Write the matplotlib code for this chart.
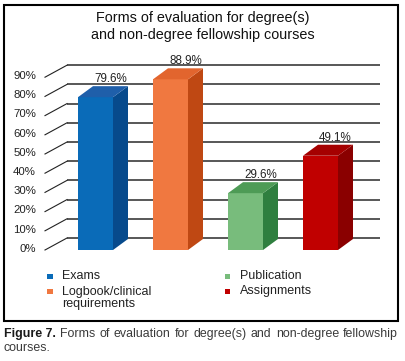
import matplotlib
matplotlib.use("Agg")
import matplotlib.pyplot as plt
from matplotlib.patches import Polygon, Rectangle

# ---- data ----
categories = ["Exams", "Logbook/clinical\nrequirements", "Publication", "Assignments"]
values = [79.6, 88.9, 29.6, 49.1]
value_labels = ["79.6%", "88.9%", "29.6%", "49.1%"]
tick_values = [0, 10, 20, 30, 40, 50, 60, 70, 80, 90]
tick_labels = ["0%", "10%", "20%", "30%", "40%", "50%", "60%", "70%", "80%", "90%"]
front_colors = ["#0A6BB8", "#F07840", "#78BC7C", "#C00000"]
side_colors = ["#074A8C", "#BF4813", "#2F7F3F", "#8A0000"]
top_colors = ["#1F5FAA", "#E2652E", "#4E9B56", "#A50000"]
title = "Forms of evaluation for degree(s)\nand non-degree fellowship courses"
cap_bold = "Figure 7."
cap_rest = "Forms of evaluation for degree(s) and non-degree fellowship"
cap_line2 = "courses."

W, H = 406, 361
FONT = "Liberation Sans"
plt.rcParams['font.family'] = [FONT, 'DejaVu Sans']

fig = plt.figure(figsize=(W / 100, H / 100), dpi=100)
ax = fig.add_axes([0, 0, 1, 1])
X0, XS = 95.5, 75.0
Y0, YS = 250.0, 1.92
ax.set_xlim(-X0 / XS, (W - X0) / XS)
ax.set_ylim((Y0 - H) / YS, Y0 / YS)
ax.axis("off")

def fx(px):
    return px / W

def fy(py):
    return 1 - py / H

# back wall grid lines + diagonal wall edges
wall_left = (67 - X0) / XS
wall_right = (380 - X0) / XS
diag_left = (45 - X0) / XS
wall_dy = 12 / YS
for t, lab in zip(tick_values, tick_labels):
    ax.plot([wall_left, wall_right], [t + wall_dy, t + wall_dy],
            color="#2a2a2a", lw=1.1, zorder=1, solid_capstyle="butt")
    ax.plot([diag_left, wall_left], [t, t + wall_dy], color="#222222", lw=0.8, zorder=1)
    ax.text((36 - X0) / XS, t + 0.6, lab, ha="right", va="center",
            fontsize=8.2, color="#222222")

# bars (front faces) with 3D side and top
bw = 35 / XS
dx = 15 / XS
dy = 11 / YS
xs = list(range(len(values)))
ax.bar(xs, values, width=bw, color=front_colors, zorder=3, linewidth=0)
for i, v in enumerate(values):
    x0 = i - bw / 2
    x1 = i + bw / 2
    side = Polygon([(x1, 0), (x1 + dx, dy), (x1 + dx, v + dy), (x1, v)],
                   closed=True, facecolor=side_colors[i], edgecolor="none", zorder=3)
    top = Polygon([(x0, v), (x1, v), (x1 + dx, v + dy), (x0 + dx, v + dy)],
                  closed=True, facecolor=top_colors[i], edgecolor="none", zorder=3)
    ax.add_patch(side)
    ax.add_patch(top)
    ax.text(i + dx, v + dy + 7 / YS, value_labels[i], ha="center", va="center",
            fontsize=8.4, color="#222222", zorder=4)

# title
fig.text(fx(203), fy(26.5), title, ha="center", va="center", fontsize=10.4,
         color="#111111", linespacing=1.22)

# legend (manual, two columns)
leg_pos = [(50, 276), (50, 291), (228, 276), (228, 291)]
for (lx, ly), lab, c in zip(leg_pos, categories, front_colors):
    fig.patches.append(Rectangle((fx(lx - 2.5), fy(ly + 2.5)), 5 / W, 5 / H,
                                 transform=fig.transFigure, facecolor=c,
                                 edgecolor="none"))
    if "\n" in lab:
        fig.text(fx(lx + 12), fy(ly - 5), lab, ha="left", va="top",
                 fontsize=9.0, color="#222222", linespacing=0.95)
    else:
        fig.text(fx(lx + 12), fy(ly), lab, ha="left", va="center",
                 fontsize=9.0, color="#222222")

# frame
fig.patches.append(Rectangle((fx(4), fy(321)), (398 - 4) / W, (321 - 5) / H,
                             transform=fig.transFigure, facecolor="none",
                             edgecolor="black", lw=1.5))

# caption (line 1 justified)
fig.canvas.draw()
r = fig.canvas.get_renderer()
words = [cap_bold] + cap_rest.split(" ")
objs = []
for k, w in enumerate(words):
    objs.append(fig.text(0, fy(334), w, ha="left", va="center", fontsize=8.9,
                         color="#1a1a1a" if k == 0 else "#3a3a3a",
                         fontweight="bold" if k == 0 else "normal"))
widths = [o.get_window_extent(r).width for o in objs]
left, right = 4.0, 398.0
gap = ((right - left) - sum(widths)) / (len(objs) - 1)
xcur = left
for o, wdt in zip(objs, widths):
    o.set_x(fx(xcur))
    xcur += wdt + gap
fig.text(fx(4), fy(348), cap_line2, ha="left", va="center", fontsize=8.9,
         color="#3a3a3a")

fig.savefig("out.png", dpi=100, facecolor="white")
